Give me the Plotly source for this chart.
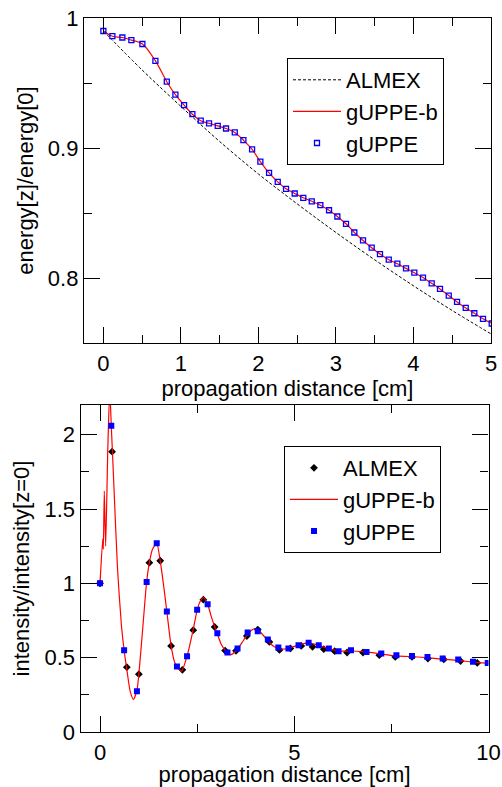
import plotly.graph_objects as go

# ---------------- top panel data ----------------
top_z = [0.000, 0.116, 0.245, 0.361, 0.503, 0.671, 0.818, 0.929, 1.041, 1.148,
         1.256, 1.363, 1.475, 1.582, 1.695, 1.806, 1.918, 2.025, 2.137, 2.249,
         2.356, 2.468, 2.579, 2.688, 2.799, 2.911, 3.018, 3.130, 3.237, 3.349,
         3.461, 3.568, 3.681, 3.792, 3.904, 4.011, 4.123, 4.235, 4.342, 4.455,
         4.562, 4.674, 4.785, 4.897, 5.009]
top_guppe = [0.990, 0.986, 0.985, 0.983, 0.980, 0.967, 0.951, 0.941, 0.933, 0.926,
             0.921, 0.919, 0.917, 0.915, 0.912, 0.906, 0.899, 0.8895, 0.8808, 0.8739,
             0.8686, 0.8650, 0.8617, 0.8590, 0.8560, 0.8521, 0.8473, 0.8417, 0.8350, 0.8289,
             0.8233, 0.8184, 0.8141, 0.8110, 0.8074, 0.8041, 0.8003, 0.7959, 0.7916, 0.7865,
             0.7816, 0.7770, 0.7729, 0.7686, 0.7650]
top_guppe_b = [0.990, 0.986, 0.985, 0.983, 0.980, 0.967, 0.951, 0.941, 0.933, 0.926,
               0.921, 0.919, 0.917, 0.915, 0.912, 0.906, 0.899, 0.8895, 0.8808, 0.8739,
               0.8686, 0.8650, 0.8617, 0.8590, 0.8560, 0.8521, 0.8473, 0.8417, 0.8350, 0.8289,
               0.8233, 0.8184, 0.8141, 0.8110, 0.8074, 0.8041, 0.8003, 0.7959, 0.7916, 0.7865,
               0.7816, 0.7770, 0.7729, 0.7686, 0.7650]
almex_z = [0.0, 0.5, 1.0, 1.5, 2.0, 2.5, 3.0, 3.5, 4.0, 4.5, 5.0]
almex_energy = [0.990, 0.960, 0.932, 0.905, 0.880, 0.857, 0.835, 0.814, 0.794, 0.775, 0.757]

# ---------------- bottom panel data ----------------
bot_guppe_z = [0.00, 0.29, 0.62, 0.95, 1.20, 1.46, 1.72, 1.98, 2.24, 2.50,
               2.77, 3.02, 3.28, 3.54, 3.80, 4.06, 4.32, 4.59, 4.85, 5.11,
               5.37, 5.63, 5.89, 6.14, 6.46, 6.86, 7.24, 7.63, 8.03, 8.43,
               8.82, 9.22, 9.60, 9.98]
bot_guppe_i = [1.00, 2.06, 0.55, 0.275, 1.01, 1.27, 0.81, 0.44, 0.51, 0.823,
               0.86, 0.664, 0.535, 0.562, 0.669, 0.678, 0.622, 0.568, 0.562, 0.584,
               0.600, 0.584, 0.562, 0.544, 0.550, 0.539, 0.528, 0.517, 0.512, 0.505,
               0.494, 0.488, 0.472, 0.465]
bot_almex_z = [0.00, 0.31, 0.69, 1.00, 1.27, 1.55, 1.83, 2.12, 2.40, 2.66,
               2.95, 3.22, 3.50, 3.78, 4.06, 4.36, 4.62, 4.90, 5.18, 5.47,
               5.76, 6.04, 6.36, 6.77, 7.19, 7.60, 8.03, 8.44, 8.85, 9.28, 9.71]
bot_almex_i = [1.00, 1.886, 0.436, 0.389, 1.139, 1.152, 0.579, 0.418, 0.685, 0.89,
               0.707, 0.548, 0.546, 0.646, 0.689, 0.606, 0.552, 0.562, 0.579, 0.573,
               0.557, 0.544, 0.535, 0.535, 0.517, 0.505, 0.505, 0.494, 0.488, 0.477, 0.465]
bot_line_z = [0.00, 0.07, 0.085, 0.11, 0.145, 0.20, 0.25, 0.29, 0.35, 0.45,
              0.55, 0.62, 0.69, 0.78, 0.86, 0.95, 1.00, 1.10, 1.20, 1.27,
              1.35, 1.46, 1.55, 1.64, 1.72, 1.83, 1.92, 1.98, 2.10, 2.24,
              2.40, 2.50, 2.58, 2.66, 2.77, 2.86, 2.95, 3.02, 3.12, 3.22,
              3.35, 3.50, 3.65, 3.78, 3.90, 4.00, 4.10, 4.32, 4.45, 4.60,
              4.85, 5.10, 5.35, 5.60, 5.90, 6.14, 6.50, 6.90, 7.25, 7.60,
              8.00, 8.40, 8.80, 9.20, 9.60, 10.00]
bot_line_i = [1.00, 1.30, 1.23, 1.62, 1.25, 1.90, 2.30, 2.06, 1.70, 1.10,
              0.72, 0.55, 0.42, 0.27, 0.22, 0.28, 0.39, 0.70, 1.01, 1.14,
              1.23, 1.27, 1.15, 0.98, 0.81, 0.58, 0.47, 0.44, 0.41, 0.51,
              0.69, 0.82, 0.88, 0.905, 0.86, 0.78, 0.71, 0.66, 0.59, 0.55,
              0.52, 0.545, 0.60, 0.65, 0.685, 0.695, 0.68, 0.615, 0.58, 0.56,
              0.562, 0.585, 0.600, 0.585, 0.560, 0.545, 0.545, 0.537, 0.525, 0.512,
              0.508, 0.500, 0.490, 0.482, 0.470, 0.462]

FONT = "Liberation Sans, Arial, sans-serif"
W, H = 502, 787

fig = go.Figure()

# top panel
fig.add_trace(go.Scatter(x=almex_z, y=almex_energy, mode="lines", name="ALMEX",
                         line=dict(color="black", width=1, dash="3px,2px", shape="spline"),
                         xaxis="x", yaxis="y", legend="legend"))
fig.add_trace(go.Scatter(x=top_z, y=top_guppe_b, mode="lines", name="gUPPE-b",
                         line=dict(color="red", width=1.2, shape="spline", smoothing=1),
                         xaxis="x", yaxis="y", legend="legend"))
fig.add_trace(go.Scatter(x=top_z, y=top_guppe, mode="markers", name="gUPPE",
                         marker=dict(symbol="square-open", size=5, color="blue",
                                     line=dict(width=1.3, color="blue")),
                         xaxis="x", yaxis="y", legend="legend"))

# bottom panel
fig.add_trace(go.Scatter(x=bot_almex_z, y=bot_almex_i, mode="markers", name="ALMEX",
                         marker=dict(symbol="diamond", size=6, color="black"),
                         xaxis="x2", yaxis="y2", legend="legend2"))
fig.add_trace(go.Scatter(x=bot_line_z, y=bot_line_i, mode="lines", name="gUPPE-b",
                         line=dict(color="red", width=1.2, shape="spline", smoothing=0.6),
                         xaxis="x2", yaxis="y2", legend="legend2"))
fig.add_trace(go.Scatter(x=bot_guppe_z, y=bot_guppe_i, mode="markers", name="gUPPE",
                         marker=dict(symbol="square", size=6, color="blue"),
                         xaxis="x2", yaxis="y2", legend="legend2"))


def ax(**kw):
    d = dict(showline=True, linecolor="black", linewidth=1.3, mirror="ticks",
             ticks="inside", ticklen=16, tickwidth=1.3, tickcolor="black",
             showgrid=False, zeroline=False,
             tickfont=dict(size=22, color="black", family=FONT),
             title_font=dict(size=22, color="black", family=FONT),
             minor=dict(ticks="inside", ticklen=8, tickwidth=1.3, tickcolor="black",
                        showgrid=False))
    d.update(kw)
    return d


def px_x(p):
    return p / W


def px_y(p):
    return (H - p) / H


legend_style = dict(xanchor="left", yanchor="top", bgcolor="white",
                    bordercolor="black", borderwidth=1, itemwidth=48,
                    font=dict(size=22, family=FONT, color="black"), tracegroupgap=0)

fig.update_layout(
    width=W, height=H, template="none",
    paper_bgcolor="white", plot_bgcolor="white",
    margin=dict(l=0, r=0, t=0, b=0),
    font=dict(family=FONT, size=22, color="black"),
    xaxis=ax(domain=[px_x(84), px_x(491)], range=[-0.25, 5], dtick=1, tick0=0,
             minor_dtick=0.5, anchor="y",
             title=dict(text="propagation distance [cm]", standoff=6)),
    yaxis=ax(domain=[px_y(343), px_y(18)], range=[0.75, 1.0], dtick=0.1, tick0=0.8,
             minor_dtick=0.05, anchor="x",
             title=dict(text="energy[z]/energy[0]", standoff=8)),
    xaxis2=ax(domain=[px_x(80.6), px_x(488.5)], range=[-0.5, 10], dtick=5, tick0=0,
              minor_dtick=2.5, anchor="y2",
              title=dict(text="propagation distance [cm]", standoff=6)),
    yaxis2=ax(domain=[px_y(732), px_y(405)], range=[0, 2.2], dtick=0.5, tick0=0,
              minor_dtick=0.25, anchor="x2",
              title=dict(text="intensity/intensity[z=0]", standoff=8)),
    legend=dict(x=px_x(287), y=px_y(58), **legend_style),
    legend2=dict(x=px_x(284), y=px_y(446), **legend_style),
    showlegend=True,
)

fig.write_html(
    "out.html",
    config={"displayModeBar": False},
    post_script="document.body.style.margin='0';document.body.style.padding='0';"
                "document.body.style.overflow='hidden';",
)
